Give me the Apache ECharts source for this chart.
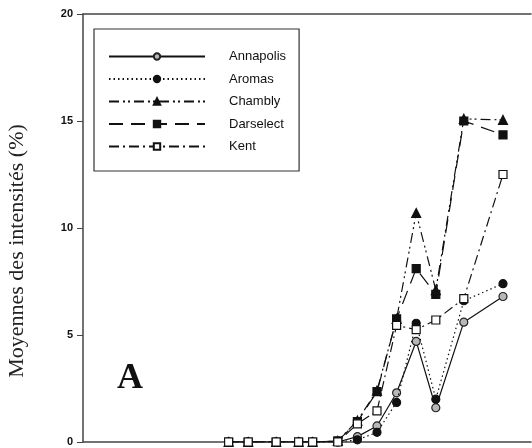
<!DOCTYPE html>
<html><head><meta charset="utf-8">
<script src="https://cdn.jsdelivr.net/npm/echarts@6/dist/echarts.min.js"></script>
<style>html,body{margin:0;padding:0;background:#fff}#c{width:532px;height:448px}</style>
</head><body><div id="c"></div>
<script>
// sampling days (x positions)
const days = [52, 59, 69, 77, 82, 91, 98, 105, 112, 119, 126, 136, 150];
const seriesNames = ['Annapolis', 'Aromas', 'Chambly', 'Darselect', 'Kent'];
const annapolis = [0, 0, 0, 0, 0, 0, 0.25, 0.75, 2.3, 4.7, 1.6, 5.6, 6.8];
const aromas    = [0, 0, 0, 0, 0, 0, 0.1, 0.45, 1.85, 5.55, 2.0, 6.6, 7.4];
const chambly   = [0, 0, 0, 0, 0, 0.05, 1.0, 2.4, 5.75, 10.7, 7.1, 15.1, 15.05];
const darselect = [0, 0, 0, 0, 0, 0.05, 0.95, 2.35, 5.75, 8.1, 6.9, 15.0, 14.35];
const kent      = [0, 0, 0, 0, 0, 0, 0.85, 1.45, 5.45, 5.25, 5.7, 6.7, 12.5];
const yTicks = [0, 5, 10, 15, 20];
const yTitle = 'Moyennes des intensités (%)';
const panelLabel = 'A';

const values = [annapolis, aromas, chambly, darselect, kent];
const styles = [
  {symbol: 'circle', size: 8, color: '#b8b8b8', border: '#222', dash: 'solid'},
  {symbol: 'circle', size: 8, color: '#111', border: '#111', dash: [1.5, 3]},
  {symbol: 'triangle', size: 9, color: '#111', border: '#111', dash: [10, 4, 2, 3, 2, 4]},
  {symbol: 'rect', size: 8, color: '#111', border: '#111', dash: [14, 8]},
  {symbol: 'rect', size: 8, color: '#fff', border: '#111', dash: [10, 4, 2, 4]}
];

const series = seriesNames.map((n, i) => ({
  name: n,
  type: 'line',
  xAxisIndex: 0,
  data: days.map((d, j) => [d, values[i][j]]),
  symbol: styles[i].symbol,
  symbolSize: styles[i].size,
  showAllSymbol: true,
  lineStyle: {color: '#111', width: 1.2, type: styles[i].dash},
  itemStyle: {color: styles[i].color, borderColor: styles[i].border, borderWidth: 1.2},
  emphasis: {disabled: true},
  z: 2 + i
}));

const chart = echarts.init(document.getElementById('c'));
chart.setOption({
  animation: false,
  backgroundColor: '#fff',
  grid: {left: 83, right: 1, top: 14, bottom: 6},
  xAxis: [
    {type: 'value', min: 0, max: 160, position: 'bottom',
     axisLine: {show: true, lineStyle: {color: '#444', width: 1.5}},
     axisTick: {show: false}, axisLabel: {show: false}, splitLine: {show: false}},
    {type: 'value', min: 0, max: 160, position: 'top',
     axisLine: {show: true, lineStyle: {color: '#444', width: 1.5}},
     axisTick: {show: false}, axisLabel: {show: false}, splitLine: {show: false}}
  ],
  yAxis: {
    type: 'value', min: yTicks[0], max: yTicks[yTicks.length - 1], interval: 5,
    axisLine: {show: true, lineStyle: {color: '#444', width: 1.5}},
    axisTick: {show: true, length: 6, lineStyle: {color: '#444', width: 1}},
    axisLabel: {margin: 10, fontFamily: 'Liberation Sans, Arial', fontWeight: 'bold', fontSize: 11, color: '#111'},
    splitLine: {show: false}
  },
  legend: {
    orient: 'vertical', left: 94, top: 29,
    data: seriesNames,
    itemWidth: 96, itemHeight: 8, itemGap: 7.5,
    padding: [20, 13, 17, 14],
    borderColor: '#333', borderWidth: 1.2, borderRadius: 0,
    selectedMode: false,
    textStyle: {fontFamily: 'Liberation Sans, Arial', fontSize: 13, color: '#111', lineHeight: 15, padding: [0, 0, 0, 19]}
  },
  graphic: [
    {type: 'text', x: 17, y: 251, rotation: Math.PI / 2,
     style: {text: yTitle, font: '22px "Liberation Serif", "Times New Roman", serif', fill: '#222', align: 'center', verticalAlign: 'middle'}},
    {type: 'text', x: 130, y: 379,
     style: {text: panelLabel, font: 'bold 36px "Liberation Serif", "Times New Roman", serif', fill: '#111', align: 'center', verticalAlign: 'middle'}}
  ],
  series: series
});
</script></body></html>
